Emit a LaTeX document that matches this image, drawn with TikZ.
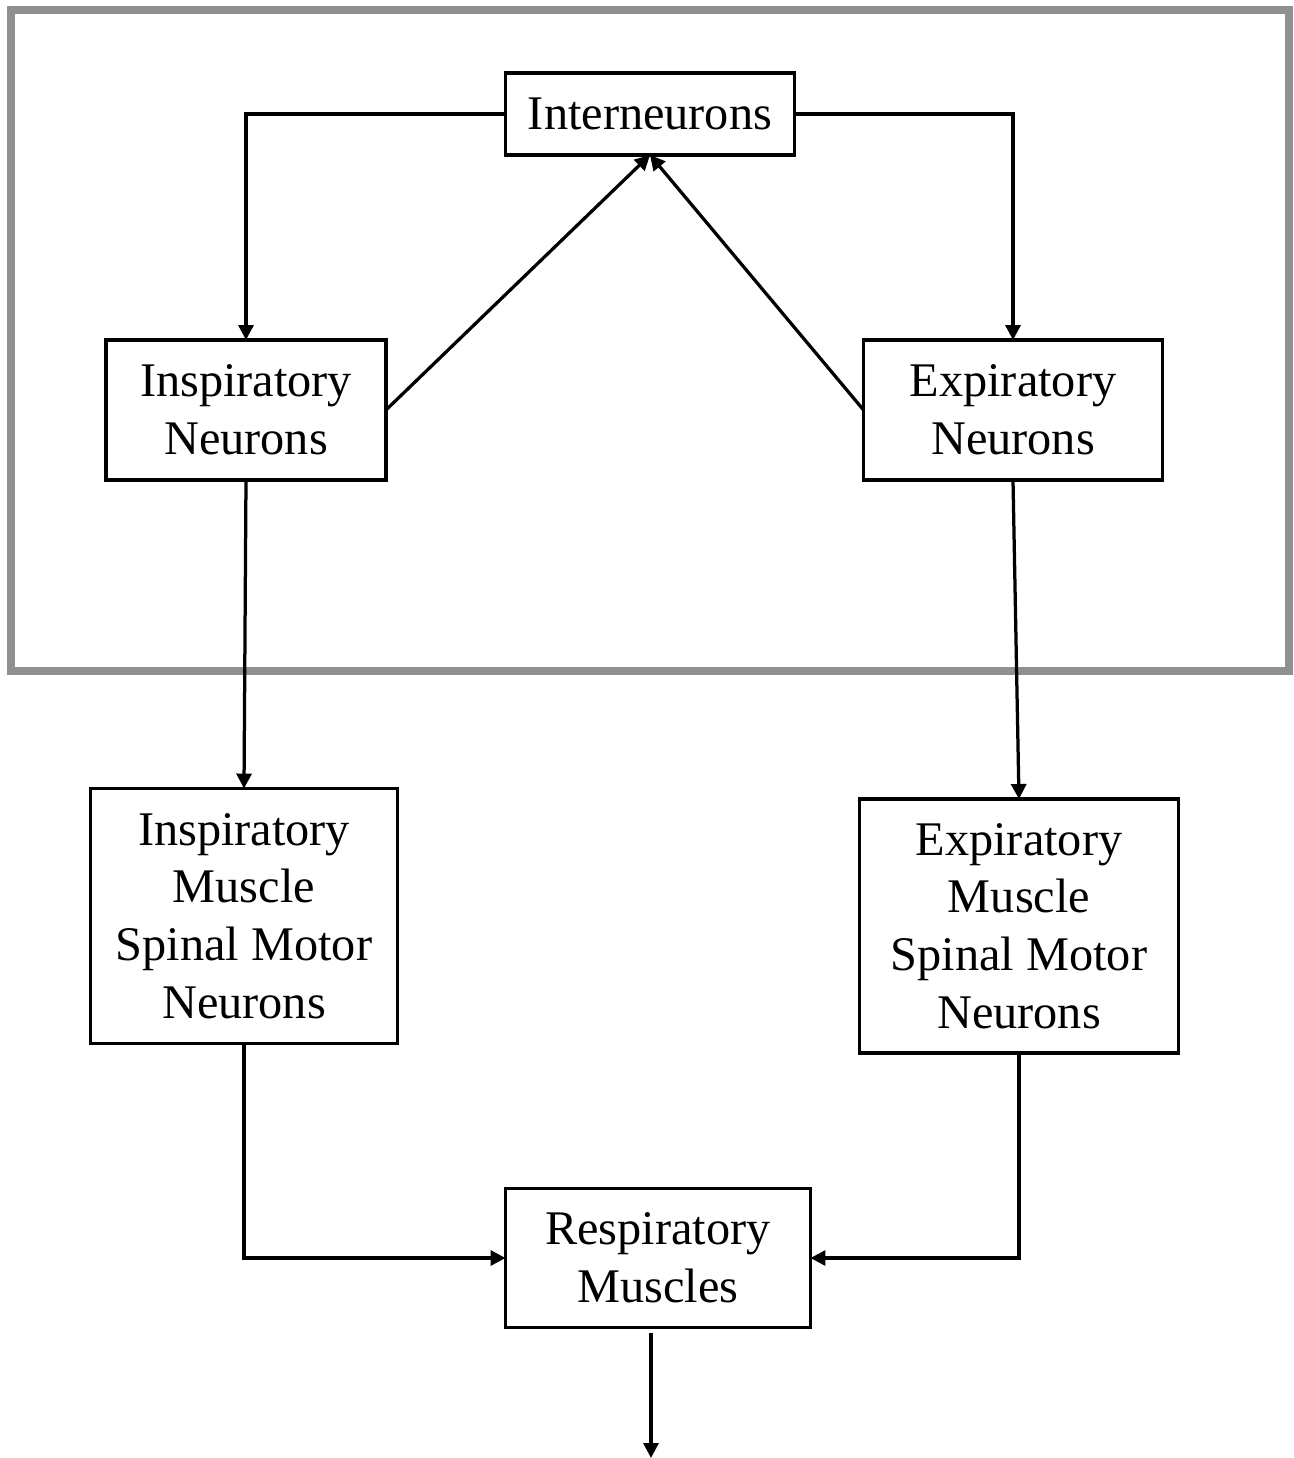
\documentclass[tikz,border=0pt]{standalone}
\usepackage{fontspec}
\setmainfont{Liberation Serif}
\usetikzlibrary{arrows.meta}
\begin{document}
\begin{tikzpicture}[x=0.02cm, y=-0.02cm, line width=0.065cm, font=\fontsize{27.5}{32.8}\selectfont,
    every node/.style={draw, fill=white, align=center, inner sep=0pt, outer sep=0pt},
    arr/.style={-{Triangle[length=0.3cm, width=0.3cm]}}, line join=miter]
    \useasboundingbox (0, 0) rectangle (1294, 1458);
    \draw[line width=0.16cm, color={rgb,255:red,144;green,144;blue,144}] (11, 10) rectangle (1289, 671);

    \node[minimum width=5.78cm, minimum height=1.64cm] (inter) at (650, 114) {Interneurons};
    \node[minimum width=5.6cm, minimum height=2.8cm] (insp) at (246, 410) {Inspiratory\\Neurons};
    \node[minimum width=5.98cm, minimum height=2.8cm] (exp) at (1013, 410) {Expiratory\\Neurons};
    \node[minimum width=6.14cm, minimum height=5.1cm] (imn) at (244, 916) {Inspiratory\\Muscle\\Spinal Motor\\Neurons};
    \node[minimum width=6.38cm, minimum height=5.08cm] (emn) at (1019, 926) {Expiratory\\Muscle\\Spinal Motor\\Neurons};
    \node[minimum width=6.1cm, minimum height=2.78cm] (resp) at (658, 1258) {Respiratory\\Muscles};
    \coordinate (out) at (651, 1458);

    \draw[arr] (inter.west) -| (insp.north);
    \draw[arr] (inter.east) -| (exp.north);
    \draw[arr] (insp.east) -- (inter.south);
    \draw[arr] (exp.west) -- (inter.south);
    \draw[arr] (insp.south) -- (imn.north);
    \draw[arr] (exp.south) -- (emn.north);
    \draw[arr] (imn.south) |- (resp.west);
    \draw[arr] (emn.south) |- (resp.east);
    \draw[arr, shorten <=0.1cm] (out |- resp.south) -- (out);
\end{tikzpicture}
\end{document}
